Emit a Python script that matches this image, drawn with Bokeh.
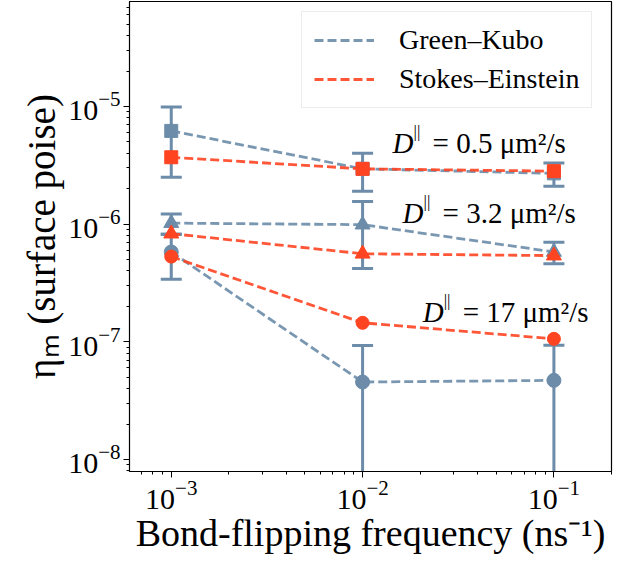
import numpy as np
from bokeh.plotting import figure
from bokeh.models import Legend, LegendItem, Label, LogTicker, Range1d
from bokeh.embed import file_html
from bokeh.resources import INLINE

# ---------------- data ----------------
freq = [1e-3, 1e-2, 1e-1]

# Green–Kubo (with error bars)
gk_d05 = [6.2e-6, 2.95e-6, 2.7e-6]
gk_d05_err = [3.7e-6, 1.05e-6, 0.6e-6]
gk_d32 = [1.02e-6, 9.9e-7, 5.8e-7]
gk_d32_err = [2.0e-7, 5.7e-7, 1.2e-7]
gk_d17 = [5.8e-7, 4.55e-8, 4.7e-8]
gk_d17_err = [2.4e-7, 4.75e-8, 4.65e-8]

# Stokes–Einstein
se_d05 = [3.7e-6, 2.95e-6, 2.82e-6]
se_d32 = [8.3e-7, 5.6e-7, 5.4e-7]
se_d17 = [5.3e-7, 1.45e-7, 1.06e-7]

series_names = ["Green–Kubo", "Stokes–Einstein"]
ann_values = ["0.5", "3.2", "17"]

# ---------------- style ----------------
GK = "#6c8ca9"
SE = "#ff4422"
FONT = "Liberation Serif"

W, H = 615, 560
p = figure(width=W, height=H, x_axis_type="log", y_axis_type="log",
           x_range=Range1d(6.05e-4, 0.2), y_range=Range1d(7.9e-9, 7.8e-5),
           output_backend="svg", toolbar_location=None,
           min_border_left=129, min_border_right=4, min_border_top=1,
           min_border_bottom=89)
p.background_fill_color = "white"
p.border_fill_color = "white"
p.outline_line_color = "black"
p.outline_line_width = 1.2
p.xgrid.visible = False
p.ygrid.visible = False

p.xaxis.ticker = LogTicker(num_minor_ticks=10)
p.yaxis.ticker = LogTicker(num_minor_ticks=10)
for ax in (p.xaxis[0], p.yaxis[0]):
    ax.major_label_text_font = FONT
    ax.major_label_text_font_size = "30px"
    ax.major_label_text_color = "black"
    ax.axis_label_text_font = FONT
    ax.axis_label_text_font_style = "normal"
    ax.axis_label_text_color = "black"
    ax.major_tick_in = 0
    ax.major_tick_out = 6
    ax.minor_tick_in = 0
    ax.minor_tick_out = 3
    ax.axis_line_color = "black"
    ax.major_tick_line_color = "black"
    ax.minor_tick_line_color = "black"
    ax.major_label_standoff = 3
p.xaxis.axis_label_standoff = 0
p.yaxis.axis_label_standoff = 2
p.xaxis.axis_label_text_font_size = "38px"
p.yaxis.axis_label_text_font_size = "39px"
p.xaxis.axis_label = "Bond-flipping frequency (ns⁻¹)"
p.yaxis.axis_label = "ηₘ (surface poise)"


def clip_low(v):
    return v if v > 0 else 1e-12


gk_sets = [(gk_d05, gk_d05_err, "square", 13),
           (gk_d32, gk_d32_err, "triangle", 15),
           (gk_d17, gk_d17_err, "circle", 14)]
se_sets = [(se_d05, "square", 13), (se_d32, "triangle", 15), (se_d17, "circle", 13)]

# error bars
for ys, errs, _, _ in gk_sets:
    up = [y + e for y, e in zip(ys, errs)]
    lo = [clip_low(y - e) for y, e in zip(ys, errs)]
    p.segment(x0=freq, y0=lo, x1=freq, y1=up, line_color=GK, line_width=3)
    p.scatter(freq, up, marker="dash", size=21, line_color=GK, line_width=3)
    p.scatter(freq, lo, marker="dash", size=21, line_color=GK, line_width=3)

gk_lines = []
for ys, _, mk, sz in gk_sets:
    r = p.line(freq, ys, line_color=GK, line_width=2.8, line_dash="9 4", line_alpha=0.9)
    gk_lines.append(r)
    p.scatter(freq, ys, marker=mk, size=sz, fill_color=GK, line_color=GK)

se_lines = []
for ys, mk, sz in se_sets:
    r = p.line(freq, ys, line_color=SE, line_width=2.8, line_dash="9 4", line_alpha=0.9)
    se_lines.append(r)
    p.scatter(freq, ys, marker=mk, size=sz, fill_color=SE, line_color=SE)

# annotations (anchor positions in data space)
ann_pos = [(0.01435, 4.9e-6), (0.01618, 1.25e-6), (0.0206, 1.8e-7)]
for (ax_, ay_), val in zip(ann_pos, ann_values):
    p.add_layout(Label(x=ax_, y=ay_, text="D", text_font=FONT, text_font_size="29px",
                       text_font_style="italic", text_baseline="alphabetic",
                       text_color="black"))
    p.add_layout(Label(x=ax_, y=ay_, x_offset=21, y_offset=11, text="||", text_font=FONT,
                       text_font_size="17px", text_baseline="alphabetic",
                       text_color="black"))
    p.add_layout(Label(x=ax_, y=ay_, x_offset=40, text="= " + val + " μm²/s", text_font=FONT,
                       text_font_size="29px", text_baseline="alphabetic",
                       text_color="black"))

legend = Legend(items=[LegendItem(label=series_names[0], renderers=[gk_lines[0]]),
                       LegendItem(label=series_names[1], renderers=[se_lines[0]])],
                location=(172, 363), margin=0,
                label_text_font=FONT, label_text_font_size="28px",
                label_text_color="black",
                glyph_width=60, glyph_height=20, label_standoff=25,
                padding=12, spacing=7,
                border_line_color="#d9d9d9", border_line_width=1,
                background_fill_alpha=0.8)
p.add_layout(legend)

open("out.html", "w").write(file_html(p, INLINE))
